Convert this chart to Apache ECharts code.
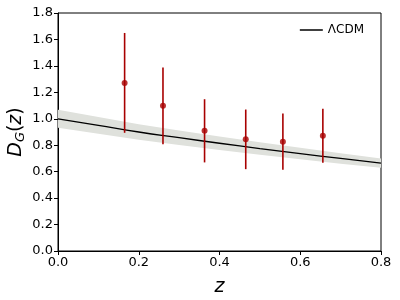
<!DOCTYPE html>
<html><head><meta charset="utf-8">
<script src="https://cdn.jsdelivr.net/npm/echarts@6/dist/echarts.min.js"></script>
<style>html,body{margin:0;padding:0;background:#fff}#c{width:400px;height:300px}</style>
</head><body><div id="c"></div>
<script>
// Data
var modelZ = [0, 0.1, 0.2, 0.3, 0.4, 0.5, 0.6, 0.7, 0.8];
var modelD = [1.0, 0.95, 0.90, 0.857, 0.815, 0.775, 0.737, 0.70, 0.665];
var bandUpper = [1.068, 1.013, 0.958, 0.912, 0.866, 0.823, 0.781, 0.740, 0.700];
var bandLower = [0.932, 0.886, 0.842, 0.802, 0.764, 0.727, 0.693, 0.660, 0.630];
var obsZ = [0.165, 0.26, 0.363, 0.465, 0.557, 0.656];
var obsD = [1.271, 1.098, 0.909, 0.846, 0.826, 0.871];
var obsHi = [1.649, 1.388, 1.148, 1.070, 1.040, 1.075];
var obsLo = [0.894, 0.808, 0.670, 0.619, 0.614, 0.667];
var xTicks = [0, 0.2, 0.4, 0.6, 0.8];
var yTicks = [0, 0.2, 0.4, 0.6, 0.8, 1.0, 1.2, 1.4, 1.6, 1.8];

var FONT = 'DejaVu Sans';
var RED = '#a80000';
var chart = echarts.init(document.getElementById('c'), null, {renderer: 'canvas'});
var bandData = modelZ.map(function(z, i){ return [z, bandLower[i], bandUpper[i]]; });
var errData = obsZ.map(function(z, i){ return [z, obsLo[i], obsHi[i]]; });
var axisCommon = {
  axisLine: {show: true, onZero: false, lineStyle: {color: '#000', width: 1}},
  axisTick: {show: true, inside: false, length: 4, lineStyle: {color: '#000', width: 1}},
  splitLine: {show: false},
  nameMoveOverlap: false,
  axisLabel: {color: '#000', fontFamily: FONT, fontSize: 13, margin: 5,
    formatter: function(v){ return v.toFixed(1); }}
};
chart.setOption({
  animation: false,
  backgroundColor: '#fff',
  grid: {left: 58, right: 19, top: 13, bottom: 49, outerBoundsMode: 'none', containLabel: false,
    show: true, borderColor: '#000', borderWidth: 1, backgroundColor: 'transparent'},
  legend: {
    right: 31, top: 19, itemWidth: 23, itemHeight: 1.5, itemGap: 10,
    textStyle: {fontFamily: FONT, fontSize: 12, color: '#000'},
    data: [{name: 'ΛCDM', icon: 'rect'}]
  },
  xAxis: Object.assign({
    type: 'value', min: 0, max: 0.8, interval: 0.2,
    name: 'z', nameLocation: 'middle', nameGap: 27,
    nameTextStyle: {fontFamily: FONT, fontSize: 19, fontStyle: 'italic', color: '#000'}
  }, axisCommon),
  yAxis: Object.assign({
    type: 'value', min: 0, max: 1.8, interval: 0.2,
    name: '{i|D}{s|G}{n|(}{i|z}{n|)}', nameLocation: 'middle', nameGap: 31, nameRotate: 90,
    nameTextStyle: {
      fontFamily: FONT, color: '#000',
      rich: {
        i: {fontFamily: FONT, fontSize: 19, fontStyle: 'italic', color: '#000'},
        n: {fontFamily: FONT, fontSize: 19, color: '#000'},
        s: {fontFamily: FONT, fontSize: 13, fontStyle: 'italic', color: '#000', verticalAlign: 'bottom', padding: [8, 0, 0, 0]}
      }
    }
  }, axisCommon),
  series: [
    {
      type: 'custom', name: 'band', silent: true, z: 1,
      data: bandData,
      renderItem: function(params, api){
        if (params.dataIndex !== 0) return null;
        var up = [], lo = [];
        for (var i = 0; i < bandData.length; i++) {
          up.push(api.coord([bandData[i][0], bandData[i][2]]));
          lo.unshift(api.coord([bandData[i][0], bandData[i][1]]));
        }
        return {type: 'polygon', shape: {points: up.concat(lo)}, style: {fill: '#dfe1dc', stroke: null}};
      },
      encode: {x: 0, y: [1, 2]}
    },
    {
      type: 'line', name: 'ΛCDM', z: 3, smooth: true, symbol: 'none', showSymbol: false,
      data: modelZ.map(function(z, i){ return [z, modelD[i]]; }),
      lineStyle: {color: '#000', width: 1.3}, itemStyle: {color: '#000'}
    },
    {
      type: 'custom', name: 'err', z: 4,
      data: errData,
      renderItem: function(params, api){
        var p1 = api.coord([api.value(0), api.value(1)]);
        var p2 = api.coord([api.value(0), api.value(2)]);
        return {type: 'line', shape: {x1: p1[0], y1: p1[1], x2: p2[0], y2: p2[1]}, style: {stroke: RED, lineWidth: 1.6}};
      },
      encode: {x: 0, y: [1, 2]}
    },
    {
      type: 'scatter', name: 'obs', z: 5, symbolSize: 6,
      data: obsZ.map(function(z, i){ return [z, obsD[i]]; }),
      itemStyle: {color: RED}
    }
  ]
});
</script></body></html>
